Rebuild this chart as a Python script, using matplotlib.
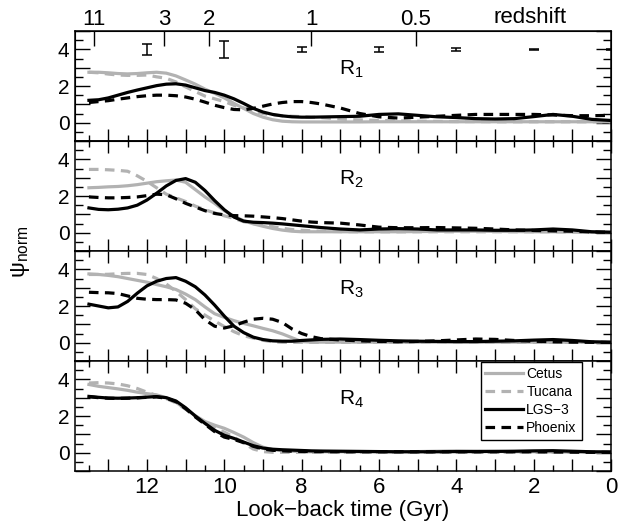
import matplotlib
matplotlib.use("Agg")
import matplotlib.pyplot as plt
from matplotlib.ticker import MultipleLocator, FuncFormatter

plt.rcParams["font.family"] = ["Liberation Sans", "DejaVu Sans"]
plt.rcParams["mathtext.default"] = "regular"

# look-back time grid (Gyr)
t_gyr = [13.5, 13.25, 13.0, 12.75, 12.5, 12.25, 12.0, 11.75, 11.5, 11.25,
         11.0, 10.75, 10.5, 10.25, 10.0, 9.75, 9.5, 9.25, 9.0, 8.75,
         8.5, 8.25, 8.0, 7.75, 7.5, 7.0, 6.5, 6.0, 5.5, 5.0,
         4.5, 4.0, 3.5, 3.0, 2.5, 2.0, 1.5, 1.0, 0.5, 0.0]

galaxies = ["Cetus", "Tucana", "LGS\u22123", "Phoenix"]
regions = ["R$_1$", "R$_2$", "R$_3$", "R$_4$"]

# ---- R1
r1_cetus = [2.75, 2.75, 2.72, 2.68, 2.66, 2.68, 2.72, 2.75, 2.70, 2.55,
            2.33, 2.10, 1.83, 1.60, 1.35, 1.05, 0.78, 0.50, 0.30, 0.16,
            0.08, 0.05, 0.04, 0.04, 0.04, 0.04, 0.04, 0.05, 0.05, 0.05,
            0.05, 0.05, 0.05, 0.05, 0.05, 0.05, 0.05, 0.05, 0.05, 0.05]
r1_tucana = [2.75, 2.72, 2.65, 2.60, 2.58, 2.58, 2.60, 2.50, 2.42, 2.22,
             1.95, 1.70, 1.45, 1.30, 1.15, 0.95, 0.80, 0.65, 0.50, 0.42,
             0.38, 0.35, 0.33, 0.30, 0.28, 0.20, 0.15, 0.12, 0.10, 0.08,
             0.07, 0.06, 0.06, 0.05, 0.05, 0.05, 0.05, 0.05, 0.05, 0.05]
r1_lgs3 = [1.22, 1.25, 1.35, 1.50, 1.65, 1.78, 1.90, 2.02, 2.10, 2.12,
           2.05, 1.90, 1.75, 1.65, 1.50, 1.30, 1.05, 0.78, 0.58, 0.45,
           0.37, 0.32, 0.30, 0.30, 0.31, 0.33, 0.35, 0.45, 0.48, 0.40,
           0.32, 0.28, 0.22, 0.20, 0.22, 0.33, 0.45, 0.35, 0.18, 0.12]
r1_phoenix = [1.10, 1.15, 1.20, 1.28, 1.35, 1.42, 1.47, 1.50, 1.50, 1.47,
              1.40, 1.28, 1.12, 0.95, 0.82, 0.72, 0.70, 0.78, 0.90, 1.02,
              1.10, 1.15, 1.15, 1.10, 1.02, 0.80, 0.50, 0.32, 0.25, 0.30,
              0.35, 0.40, 0.45, 0.45, 0.45, 0.45, 0.42, 0.38, 0.38, 0.40]

# ---- R2
r2_cetus = [2.45, 2.47, 2.50, 2.52, 2.56, 2.62, 2.70, 2.78, 2.83, 2.87,
            2.75, 2.35, 1.95, 1.60, 1.20, 0.90, 0.65, 0.48, 0.35, 0.23,
            0.14, 0.08, 0.05, 0.05, 0.05, 0.05, 0.05, 0.05, 0.05, 0.06,
            0.07, 0.08, 0.08, 0.07, 0.06, 0.05, 0.05, 0.04, 0.03, 0.03]
r2_tucana = [3.45, 3.45, 3.43, 3.40, 3.35, 3.10, 2.80, 2.45, 2.10, 1.90,
             1.70, 1.45, 1.25, 1.08, 0.92, 0.78, 0.60, 0.50, 0.43, 0.33,
             0.24, 0.17, 0.13, 0.10, 0.08, 0.06, 0.05, 0.05, 0.05, 0.05,
             0.05, 0.05, 0.05, 0.05, 0.05, 0.05, 0.05, 0.04, 0.03, 0.03]
r2_lgs3 = [1.35, 1.27, 1.25, 1.28, 1.35, 1.50, 1.78, 2.15, 2.55, 2.85,
           2.95, 2.75, 2.30, 1.75, 1.25, 0.85, 0.63, 0.57, 0.55, 0.52,
           0.48, 0.43, 0.38, 0.33, 0.28, 0.20, 0.15, 0.20, 0.22, 0.20,
           0.15, 0.15, 0.15, 0.13, 0.13, 0.15, 0.20, 0.15, 0.05, 0.02]
r2_phoenix = [1.95, 1.92, 1.90, 1.90, 1.92, 1.95, 2.02, 2.10, 2.07, 1.85,
              1.60, 1.40, 1.20, 1.05, 0.97, 0.93, 0.92, 0.90, 0.86, 0.82,
              0.77, 0.70, 0.63, 0.58, 0.55, 0.52, 0.42, 0.30, 0.27, 0.27,
              0.28, 0.26, 0.24, 0.20, 0.15, 0.12, 0.10, 0.08, 0.04, 0.02]

# ---- R3
r3_cetus = [3.75, 3.72, 3.67, 3.60, 3.50, 3.40, 3.30, 3.17, 3.05, 2.90,
            2.65, 2.35, 1.95, 1.58, 1.38, 1.20, 1.05, 0.92, 0.78, 0.65,
            0.48, 0.27, 0.06, 0.03, 0.03, 0.03, 0.03, 0.03, 0.03, 0.03,
            0.03, 0.03, 0.03, 0.03, 0.03, 0.03, 0.03, 0.03, 0.03, 0.03]
r3_tucana = [3.72, 3.72, 3.73, 3.76, 3.78, 3.78, 3.72, 3.50, 3.20, 2.80,
             2.35, 1.85, 1.50, 1.18, 0.88, 0.60, 0.38, 0.25, 0.13, 0.05,
             0.02, 0.02, 0.02, 0.02, 0.02, 0.02, 0.02, 0.02, 0.02, 0.02,
             0.02, 0.02, 0.02, 0.02, 0.02, 0.02, 0.02, 0.02, 0.02, 0.02]
r3_lgs3 = [2.10, 2.00, 1.90, 1.95, 2.25, 2.70, 3.10, 3.35, 3.50, 3.55,
           3.35, 3.05, 2.60, 2.05, 1.45, 0.90, 0.55, 0.30, 0.17, 0.10,
           0.08, 0.08, 0.12, 0.15, 0.18, 0.20, 0.17, 0.13, 0.10, 0.08,
           0.07, 0.06, 0.06, 0.08, 0.10, 0.14, 0.17, 0.12, 0.05, 0.02]
r3_phoenix = [2.75, 2.73, 2.72, 2.68, 2.55, 2.42, 2.37, 2.35, 2.35, 2.33,
              2.15, 1.80, 1.25, 0.90, 0.80, 0.92, 1.12, 1.28, 1.33, 1.28,
              1.10, 0.75, 0.50, 0.33, 0.22, 0.15, 0.10, 0.07, 0.05, 0.07,
              0.10, 0.15, 0.20, 0.18, 0.12, 0.08, 0.05, 0.03, 0.02, 0.02]

# ---- R4
r4_cetus = [3.72, 3.62, 3.55, 3.48, 3.40, 3.30, 3.22, 3.15, 3.00, 2.75,
            2.38, 2.02, 1.70, 1.50, 1.33, 1.10, 0.85, 0.55, 0.30, 0.17,
            0.11, 0.08, 0.05, 0.05, 0.05, 0.05, 0.05, 0.05, 0.05, 0.06,
            0.08, 0.10, 0.09, 0.07, 0.05, 0.05, 0.04, 0.03, 0.02, 0.02]
r4_tucana = [3.80, 3.82, 3.80, 3.75, 3.65, 3.50, 3.30, 3.12, 2.95, 2.72,
             2.38, 2.00, 1.62, 1.35, 1.12, 0.85, 0.52, 0.20, 0.06, 0.02,
             0.02, 0.02, 0.02, 0.02, 0.02, 0.02, 0.02, 0.02, 0.02, 0.02,
             0.02, 0.02, 0.02, 0.02, 0.02, 0.02, 0.02, 0.02, 0.02, 0.02]
r4_lgs3 = [3.07, 3.02, 2.98, 2.97, 2.98, 3.00, 3.03, 3.06, 3.00, 2.82,
           2.45, 2.00, 1.60, 1.22, 0.95, 0.78, 0.58, 0.38, 0.25, 0.19,
           0.16, 0.14, 0.12, 0.10, 0.09, 0.08, 0.07, 0.06, 0.05, 0.05,
           0.05, 0.06, 0.06, 0.07, 0.08, 0.10, 0.11, 0.08, 0.05, 0.04]
r4_phoenix = [3.05, 3.00, 2.97, 2.96, 2.97, 2.99, 3.02, 3.04, 2.97, 2.78,
              2.40, 1.95, 1.55, 1.15, 0.85, 0.72, 0.55, 0.35, 0.20, 0.13,
              0.10, 0.08, 0.07, 0.06, 0.06, 0.05, 0.05, 0.05, 0.05, 0.05,
              0.05, 0.05, 0.05, 0.05, 0.05, 0.05, 0.04, 0.03, 0.02, 0.02]

# time-resolution error bars drawn in R1 (at psi = 4)
err_t = [12, 10, 8, 6, 4, 2, 0]
err_dy = [0.30, 0.45, 0.15, 0.13, 0.10, 0.04, 0.03]

# redshift axis
z_labels = ["11", "3", "2", "1", "0.5"]
z_lookback = [13.37, 11.55, 10.40, 7.75, 5.05]

panels = [
    [r1_cetus, r1_tucana, r1_lgs3, r1_phoenix],
    [r2_cetus, r2_tucana, r2_lgs3, r2_phoenix],
    [r3_cetus, r3_tucana, r3_lgs3, r3_phoenix],
    [r4_cetus, r4_tucana, r4_lgs3, r4_phoenix],
]

grey = "#b2b2b2"
styles = [
    dict(color=grey, ls="-"),
    dict(color=grey, ls=(0, (3, 2))),
    dict(color="black", ls="-"),
    dict(color="black", ls=(0, (3, 2))),
]

fs = 15
fsx = 16
fig, axs = plt.subplots(4, 1, figsize=(6.21, 5.29), dpi=100, sharex=True)
fig.subplots_adjust(left=0.1208, right=0.984, top=0.9414, bottom=0.1096, hspace=0)

even_fmt = FuncFormatter(lambda v, p: "%d" % round(v) if round(v) % 2 == 0 else "")

for i, ax in enumerate(axs):
    for vals, st in zip(panels[i], styles):
        ax.plot(t_gyr, vals, lw=2.3, **st)
    ax.set_xlim(13.86, 0)
    ax.set_ylim(-1, 5)
    ax.xaxis.set_major_locator(MultipleLocator(1))
    ax.xaxis.set_minor_locator(MultipleLocator(0.5))
    ax.yaxis.set_major_locator(MultipleLocator(1))
    ax.yaxis.set_minor_locator(MultipleLocator(0.5))
    ax.xaxis.set_major_formatter(even_fmt)
    ax.yaxis.set_major_formatter(even_fmt)
    ax.tick_params(axis="both", which="both", direction="in", width=1.0,
                   top=(i > 0), right=True, pad=4)
    ax.tick_params(axis="y", labelsize=fs)
    ax.tick_params(axis="x", labelsize=fsx)
    ax.tick_params(axis="y", which="major", length=11)
    ax.tick_params(axis="y", which="minor", length=5.5)
    ax.tick_params(axis="x", which="major", length=8.5)
    ax.tick_params(axis="x", which="minor", length=4.5)
    for sp in ax.spines.values():
        sp.set_linewidth(1.1)
    ax.text(7.03, 2.6, regions[i], fontsize=fs, ha="left", va="baseline")

# error bars in R1
axs[0].errorbar(err_t, [4] * len(err_t), yerr=err_dy, fmt="none",
                ecolor="black", elinewidth=1.1, capsize=3.5, capthick=1.1)

# redshift ticks on top of R1
axz = axs[0].twiny()
axz.set_xlim(13.86, 0)
axz.set_xticks(z_lookback)
axz.set_xticklabels(z_labels)
axz.tick_params(axis="x", direction="in", length=11, width=1.0, labelsize=fsx, pad=1)
axz.xaxis.set_minor_locator(plt.NullLocator())
axz.text(2.1, 1.03, "redshift", transform=axz.get_xaxis_transform(),
         fontsize=fsx, ha="center", va="bottom")

axs[3].set_xlabel("Look\u2212back time (Gyr)", fontsize=fsx, labelpad=2)
fig.text(0.033, 0.525, "\u03c8$_{norm}$", fontsize=fsx, rotation=90,
         ha="center", va="center")

axs[3].legend(galaxies, loc="upper right", bbox_to_anchor=(0.958, 1.055),
              fontsize=10, frameon=True, fancybox=False, edgecolor="black",
              framealpha=1, handlelength=2.7, handletextpad=0.25,
              labelspacing=0.3, borderpad=0.35)
axs[3].get_legend().get_frame().set_linewidth(1.0)

fig.savefig("out.png", dpi=100)
